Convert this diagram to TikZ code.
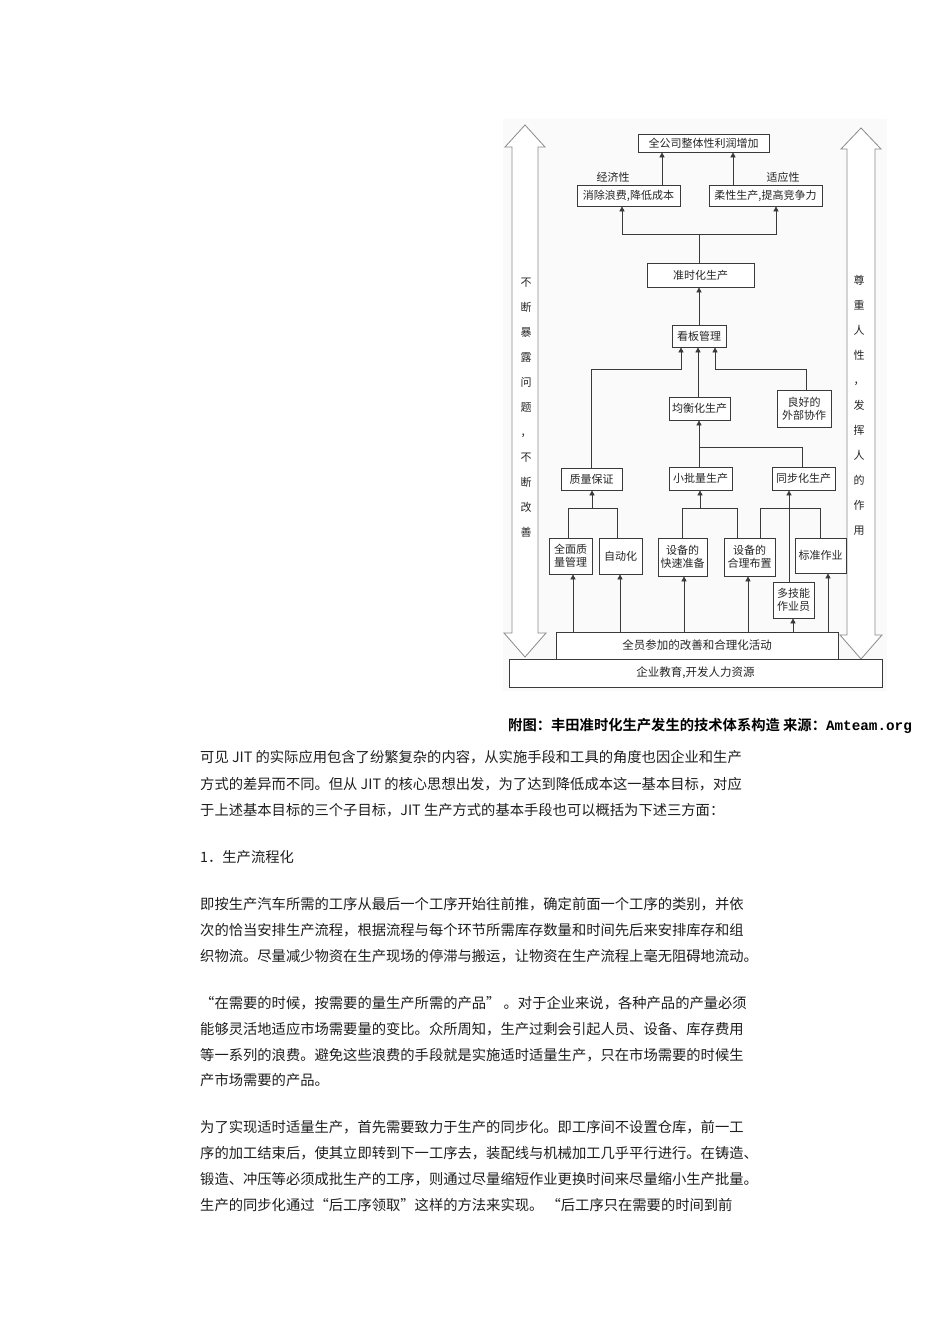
\documentclass[tikz,border=0pt]{standalone}
\usepackage{fontspec}
\usetikzlibrary{arrows.meta,calc}
\newfontfamily\cjk{Noto Sans CJK SC}[BoldFont={Noto Sans CJK SC Bold}]
\newfontfamily\monof{Liberation Mono}
\definecolor{lncol}{HTML}{3A3A3A}
\definecolor{bigcol}{HTML}{8A8A8A}
\definecolor{txtcol}{HTML}{262626}
\definecolor{bodycol}{HTML}{1E1E1E}
\begin{document}
\begin{tikzpicture}[x=1pt,y=-1pt,font=\cjk,
  bx/.style={draw=lncol, line width=0.7pt, fill=white, inner sep=1pt, align=center,
    text=txtcol, font=\cjk\fontsize{11}{13}\selectfont},
  wire/.style={draw=lncol, line width=0.7pt},
  arr/.style={draw=lncol, line width=0.7pt, -{Triangle[length=5pt,width=5pt]}},
  big/.style={draw=bigcol, line width=0.8pt, fill=white},
  vtext/.style={align=center, text=txtcol, inner sep=0pt, font=\cjk\fontsize{11}{25}\selectfont},
  lbl/.style={text=txtcol, inner sep=0pt, font=\cjk\fontsize{11}{12}\selectfont},
  body/.style={anchor=west, inner sep=0pt, text=bodycol, font=\cjk\fontsize{14.3}{16}\selectfont}]
\useasboundingbox (0,0) rectangle (950,1344);
\fill[white] (0,0) rectangle (950,1344);
% image background
\fill[black!2] (503,119) rectangle (887,691);

% big hollow arrows
\draw[big] (525,125) -- (545,147) -- (538,147) -- (538,633) -- (546,633) -- (525,657)
  -- (504,633) -- (512,633) -- (512,147) -- (505,147) -- cycle;
\draw[big] (861,128) -- (881,149) -- (875,149) -- (875,635) -- (882,635) -- (861,659)
  -- (840,635) -- (847,635) -- (847,149) -- (841,149) -- cycle;
\node[vtext] (lefttext) at (526,408) {不\\断\\暴\\露\\问\\题\\，\\不\\断\\改\\善};
\node[vtext] (righttext) at (859,405) {尊\\重\\人\\性\\，\\发\\挥\\人\\的\\作\\用};

% boxes
\node[bx, minimum width=131, minimum height=18] (top) at (703.5,143) {全公司整体性利润增加};
\node[bx, minimum width=103, minimum height=21] (econ) at (628.5,195.5) {消除浪费,降低成本};
\node[bx, minimum width=113, minimum height=21] (adapt) at (765.5,195.5) {柔性生产,提高竞争力};
\node[lbl] (econlbl) at (613,177) {经济性};
\node[lbl] (adaptlbl) at (783,177) {适应性};
\node[bx, minimum width=107, minimum height=24] (jit) at (700.5,275) {准时化生产};
\node[bx, minimum width=54, minimum height=22] (kanban) at (699,336) {看板管理};
\node[bx, minimum width=61, minimum height=23] (level) at (699.5,408.5) {均衡化生产};
\node[bx, minimum width=54, minimum height=37] (ext) at (804,408.5) {良好的\\外部协作};
\node[bx, minimum width=61, minimum height=22] (quality) at (591.5,479) {质量保证};
\node[bx, minimum width=63, minimum height=23] (small) at (700.5,478.5) {小批量生产};
\node[bx, minimum width=63, minimum height=23] (sync) at (803.5,478.5) {同步化生产};
\node[bx, minimum width=43, minimum height=36] (tqm) at (570.5,556) {全面质\\量管理};
\node[bx, minimum width=43, minimum height=36] (auto) at (620.5,556) {自动化};
\node[bx, minimum width=49, minimum height=38] (setup) at (682.5,557) {设备的\\快速准备};
\node[bx, minimum width=51, minimum height=38] (layout) at (749.5,557) {设备的\\合理布置};
\node[bx, minimum width=51, minimum height=35] (std) at (820.5,555.5) {标准作业};
\node[bx, minimum width=41, minimum height=36] (multi) at (793.5,600) {多技能\\作业员};
\node[bx, minimum width=282, minimum height=27, font=\cjk\fontsize{11.5}{13}\selectfont] (all) at (697,645.5) {全员参加的改善和合理化活动};
\node[bx, minimum width=373, minimum height=28, font=\cjk\fontsize{11.5}{13}\selectfont] (edu) at (695.5,673) {企业教育,开发人力资源};

% connectors top part
\draw[arr] (econ.north -| 662,0) -- (top.south -| 662,0);
\draw[arr] (adapt.north -| 733,0) -- (top.south -| 733,0);
\draw[wire] (jit.north -| 699,0) -- (699,234) coordinate (bj);
\draw[arr] (bj) -| (econ.south -| 622,0);
\draw[arr] (bj) -| (adapt.south -| 776,0);
\draw[arr] (kanban.north -| 699,0) -- (jit.south -| 699,0);
\draw[arr] (quality.north -| 591,0) -- (591,369) -| (kanban.south -| 681,0);
\draw[arr] (level.north -| 698,0) -- (kanban.south -| 698,0);
\draw[arr] (ext.north -| 806,0) -- (806,369) -| (kanban.south -| 715,0);
\draw[arr] (small.north -| 699,0) -- (level.south -| 699,0);
\draw[wire] (sync.north -| 802,0) |- (699,447);
% lower brackets
\draw[wire] (tqm.north -| 568,0) -- (568,508) -- (617,508) -- (auto.north -| 617,0);
\draw[arr] (592,508) -- (quality.south -| 592,0);
\draw[wire] (setup.north -| 682,0) -- (682,508) -- (737,508) -- (layout.north -| 737,0);
\draw[arr] (700,508) -- (small.south -| 700,0);
\draw[wire] (layout.north -| 760,0) -- (760,508) -- (820,508) -- (std.north -| 820,0);
\draw[arr] (multi.north -| 789,0) -- (sync.south -| 789,0);
% from all
\draw[arr] (all.north -| 573,0) -- (tqm.south -| 573,0);
\draw[arr] (all.north -| 620,0) -- (auto.south -| 620,0);
\draw[arr] (all.north -| 684,0) -- (setup.south -| 684,0);
\draw[arr] (all.north -| 748,0) -- (layout.south -| 748,0);
\draw[arr] (all.north -| 793,0) -- (multi.south -| 793,0);
\draw[arr] (all.north -| 828,0) -- (std.south -| 828,0);

% caption
\node[anchor=west, inner sep=0pt, font=\cjk\bfseries\fontsize{14.3}{16}\selectfont] (cap) at (508,726)
  {附图：丰田准时化生产发生的技术体系构造 来源：{\monof\bfseries Amteam.org}};

% body text
\node[body] (l1) at (200,757) {可见 JIT 的实际应用包含了纷繁复杂的内容，从实施手段和工具的角度也因企业和生产};
\node[body] (l2) at (200,784) {方式的差异而不同。但从 JIT 的核心思想出发，为了达到降低成本这一基本目标，对应};
\node[body] (l3) at (200,810) {于上述基本目标的三个子目标，JIT 生产方式的基本手段也可以概括为下述三方面：};
\node[body] (l4) at (200,857) {1．生产流程化};
\node[body] (l5) at (200,904) {即按生产汽车所需的工序从最后一个工序开始往前推，确定前面一个工序的类别，并依};
\node[body] (l6) at (200,930) {次的恰当安排生产流程，根据流程与每个环节所需库存数量和时间先后来安排库存和组};
\node[body] (l7) at (200,956) {织物流。尽量减少物资在生产现场的停滞与搬运，让物资在生产流程上毫无阻碍地流动。};
\node[body] (l8) at (200,1003) {“在需要的时候，按需要的量生产所需的产品” 。对于企业来说，各种产品的产量必须};
\node[body] (l9) at (200,1029) {能够灵活地适应市场需要量的变比。众所周知，生产过剩会引起人员、设备、库存费用};
\node[body] (l10) at (200,1055) {等一系列的浪费。避免这些浪费的手段就是实施适时适量生产，只在市场需要的时候生};
\node[body] (l11) at (200,1080) {产市场需要的产品。};
\node[body] (l12) at (200,1127) {为了实现适时适量生产，首先需要致力于生产的同步化。即工序间不设置仓库，前一工};
\node[body] (l13) at (200,1153) {序的加工结束后，使其立即转到下一工序去，装配线与机械加工几乎平行进行。在铸造、};
\node[body] (l14) at (200,1179) {锻造、冲压等必须成批生产的工序，则通过尽量缩短作业更换时间来尽量缩小生产批量。};
\node[body] (l15) at (200,1205) {生产的同步化通过“后工序领取”这样的方法来实现。 “后工序只在需要的时间到前};
\end{tikzpicture}
\end{document}
